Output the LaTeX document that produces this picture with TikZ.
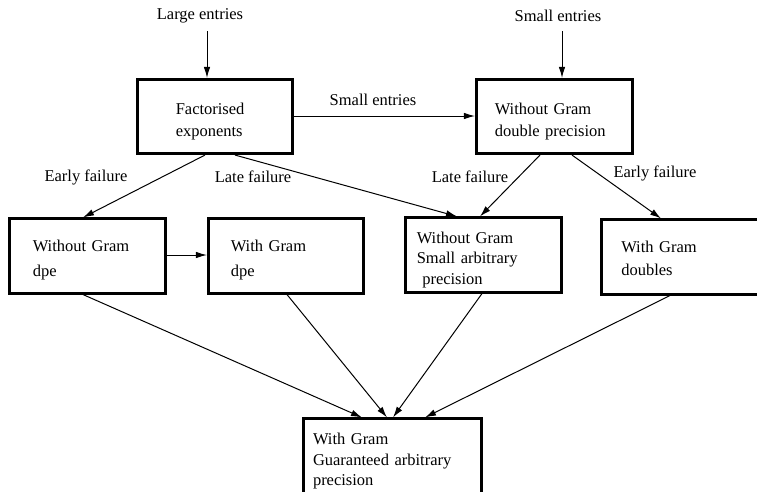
\documentclass[tikz,border=0pt]{standalone}
\usepackage{fontspec}
\setmainfont{Liberation Serif}
\usetikzlibrary{arrows.meta}
\newcommand\lowerby[1]{\rule{0pt}{\dimexpr 11.8pt+2\dimexpr #1\relax\relax}}
\begin{document}
\begin{tikzpicture}[x=1pt,y=-1pt,
  box/.style={draw,line width=2.6pt,minimum height=74.5pt,inner ysep=0pt,align=left,
    font=\fontsize{16.5}{20.5}\selectfont},
  lbl/.style={inner sep=0pt,font=\fontsize{16.5}{20}\selectfont},
  conn/.style={line width=1pt,-{Latex[length=11pt,width=6.5pt]}}]
\useasboundingbox (0,0) rectangle (757,491);
% boxes
\node[box,inner xsep=38.5pt,text width=78.5pt,font=\fontsize{16.5}{22}\selectfont] (fe) at (215,116.5) {\lowerby{5pt}Factorised\\exponents};
\node[box,inner xsep=18.5pt,text width=119.5pt,font=\fontsize{16.5}{22}\selectfont] (wd) at (554.5,116.5) {\lowerby{5pt}Without Gram\\double precision};
\node[box,inner xsep=23.5pt,text width=109.5pt,font=\fontsize{16.5}{25}\selectfont] (a) at (87.5,256) {\lowerby{4pt}Without Gram\\dpe};
\node[box,inner xsep=22.5pt,text width=110.5pt,font=\fontsize{16.5}{25}\selectfont] (b) at (286,256) {\lowerby{4pt}With Gram\\dpe};
\node[box,inner xsep=11.5pt,text width=133.5pt] (c) at (483.5,255) {\lowerby{4.5pt}Without Gram\\Small arbitrary\\\ precision};
\node[box,inner xsep=19.5pt,text width=117.5pt,font=\fontsize{16.5}{23}\selectfont] (d) at (680,257) {\lowerby{1pt}With Gram\\doubles};
\node[box,inner xsep=9.5pt,text width=159pt] (e) at (392.5,456) {\lowerby{5pt}With Gram\\Guaranteed arbitrary\\precision};
% labels
\node[lbl] (le) at (200,16) {Large entries};
\node[lbl] (se) at (558,16) {Small entries};
\node[lbl] at (373,100) {Small entries};
\node[lbl] at (86,177) {Early failure};
\node[lbl] at (253,177) {Late failure};
\node[lbl] at (470,177) {Late failure};
\node[lbl] at (655,173) {Early failure};
% connectors
\draw[conn] ([xshift=7pt]le.south |- 0,31) -- ([xshift=7pt]le.south |- fe.north);
\draw[conn] ([xshift=4pt]se.south |- 0,31) -- ([xshift=4pt]se.south |- wd.north);
\draw[conn] (fe.east |- 0,116) -- (wd.west |- 0,116);
\draw[conn] (fe.south -| 205,0) -- (a.north -| 83,0);
\draw[conn] (fe.south -| 235,0) -- (c.north -| 457,0);
\draw[conn] (wd.south -| 540,0) -- (c.north -| 480,0);
\draw[conn] (wd.south -| 572,0) -- (d.north -| 661,0);
\draw[conn] (a.east |- 0,255) -- (b.west |- 0,255);
\draw[conn] (a.south -| 83,0) -- (e.north -| 362,0);
\draw[conn] (b.south -| 287,0) -- (e.north -| 387,0);
\draw[conn] (c.south -| 482,0) -- (e.north -| 393,0);
\draw[conn] (d.south -| 670,0) -- (e.north -| 425,0);
\end{tikzpicture}
\end{document}
